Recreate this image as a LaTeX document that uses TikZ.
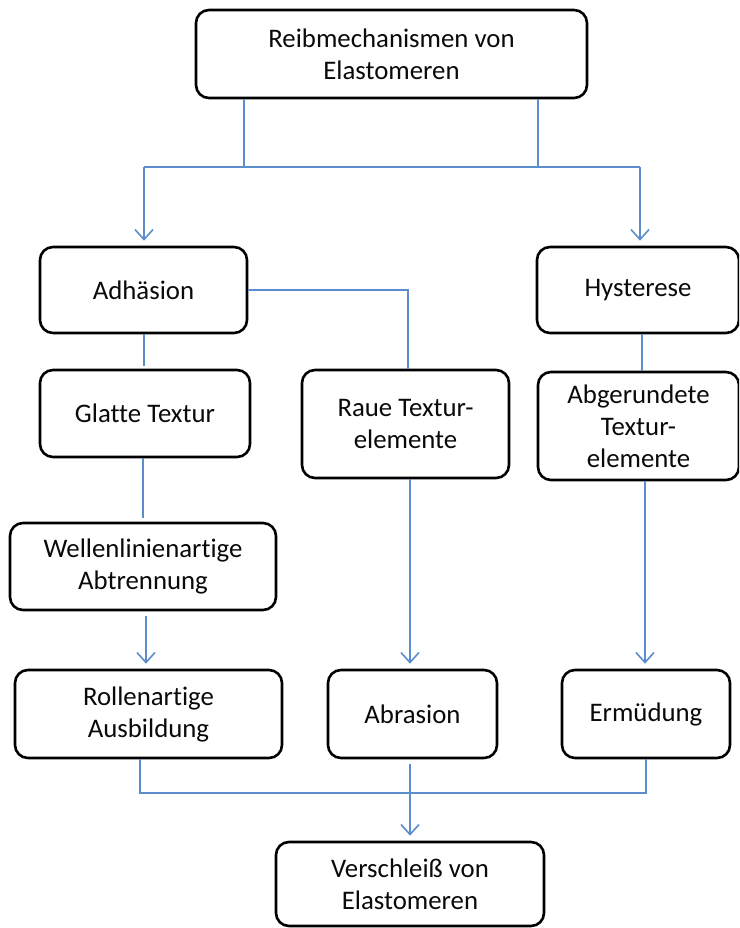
\documentclass[tikz,border=0pt]{standalone}
\usepackage{fontspec}
\setmainfont{Carlito}[Ligatures={NoCommon}]
\usetikzlibrary{arrows.meta}
\definecolor{conncol}{RGB}{91,141,205}
\definecolor{txtcol}{RGB}{10,10,10}
\tikzset{
  box/.style={draw=black, line width=2.6pt, rounded corners=13pt, fill=white,
    align=center, inner sep=0pt, text=txtcol, font=\fontsize{26.8}{32}\selectfont},
  conn/.style={draw=conncol, line width=1.6pt},
  arr/.style={conn, -{Straight Barb[length=10pt,width=18pt,line width=1.6pt]}, shorten >=5pt},
}
\begin{document}
\begin{tikzpicture}[x=1pt,y=-1pt]
\useasboundingbox (0,0) rectangle (739,928);
\clip (0,0) rectangle (739,928);
% boxes
\node[box, minimum width=391pt, minimum height=88pt] (top) at (391.5,54) {Reibmechanismen von\\Elastomeren};
\node[box, minimum width=207pt, minimum height=86pt] (adh) at (143.5,290) {Adhäsion};
\node[box, minimum width=202pt, minimum height=86pt] (hys) at (638,290) {Hysterese};
\node[box, minimum width=210pt, minimum height=87pt] (gla) at (145,413.5) {Glatte Textur};
\node[box, minimum width=207pt, minimum height=108pt] (raue) at (405.5,424) {Raue Textur-\\elemente};
\node[box, minimum width=201pt, minimum height=108pt] (abg) at (638.5,426) {Abgerundete\\Textur-\\elemente};
\node[box, minimum width=266pt, minimum height=87pt] (wel) at (143,566.5) {Wellenlinienartige\\Abtrennung};
\node[box, minimum width=267pt, minimum height=88pt] (roll) at (148.5,714) {Rollenartige\\Ausbildung};
\node[box, minimum width=169pt, minimum height=88pt] (abr) at (412.5,714) {Abrasion};
\node[box, minimum width=168pt, minimum height=88pt] (erm) at (646,714) {Ermüdung};
\node[box, minimum width=268pt, minimum height=84pt] (ver) at (410,884) {Verschleiß von\\Elastomeren};
% connectors
\coordinate (jL) at (244,167);
\coordinate (jR) at (538,167);
\coordinate (aL) at (144,167);
\coordinate (aR) at (640,167);
\draw[conn] (top.south -| jL) -- (jL);
\draw[conn] (top.south -| jR) -- (jR);
\draw[conn] (aL) -- (aR);
\draw[arr] (aL) -- (adh.north -| aL);
\draw[arr] (aR) -- (hys.north -| aR);
\draw[conn] (adh.east) -| ([xshift=2.5pt]raue.north);
\draw[conn, shorten >=3pt] ([xshift=0.5pt]adh.south) -- ([xshift=0.5pt]adh.south |- gla.north);
\draw[conn] ([xshift=4pt]hys.south) -- ([xshift=4pt]hys.south |- abg.north);
\draw[conn, shorten >=4pt] (gla.south -| wel.north) -- (wel.north);
\draw[arr, shorten <=5pt] ([xshift=3pt]wel.south) -- ([xshift=3pt]wel.south |- roll.north);
\draw[arr] ([xshift=-2.5pt]raue.south -| abr.north) -- ([xshift=-2.5pt]abr.north);
\draw[arr] ([xshift=-1pt]abg.south -| erm.north) -- ([xshift=-1pt]erm.north);
\coordinate (bl) at (140,793);
\coordinate (br) at (646,793);
\draw[conn] (roll.south -| bl) -- (bl) -- (br) -- (erm.south -| br);
\draw[arr, shorten <=5pt] (abr.south -| ver.north) -- (ver.north);
\end{tikzpicture}
\end{document}
